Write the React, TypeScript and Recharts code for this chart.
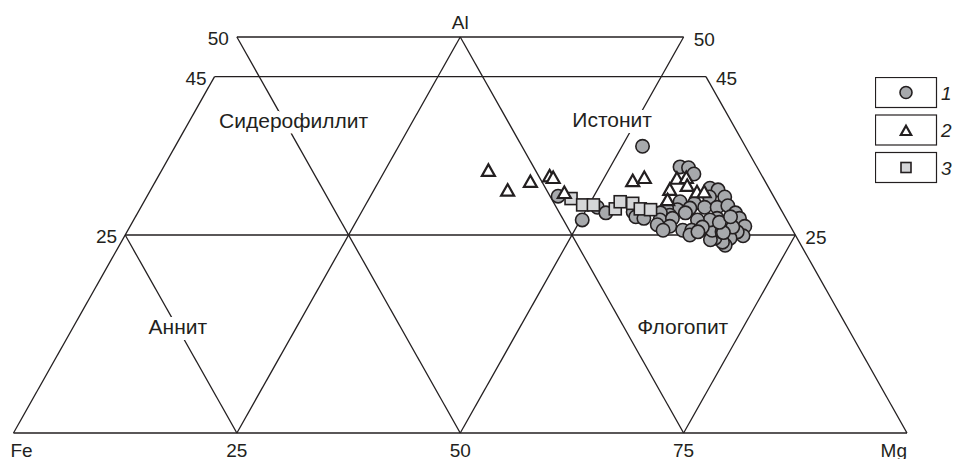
import { Legend, ReferenceDot, ReferenceLine, Scatter, ScatterChart, XAxis, YAxis } from 'recharts';

// ternary compositions, %: Mg and Al (Fe = 100 - Mg - Al)
const group1Mg = [
  52.3, 46.0, 50.2, 51.1, 52.4, 55.4, 56.0, 57.0, 57.8, 58.8, 59.8, 62.5, 63.5, 64.7, 63.0, 60.0,
  61.7, 60.2, 58.9, 61.5, 63.1, 64.5, 65.6, 66.9, 67.7, 68.8, 69.2, 68.3, 67.9, 67.8, 67.3, 66.2,
  65.8, 65.4, 66.6, 67.5, 66.8, 65.2, 64.5, 65.7, 66.6, 63.1, 61.3, 59.7, 58.5, 58.9, 60.2, 58.9,
  60.4, 62.1, 63.1, 64.0, 59.9, 63.2, 64.1, 63.9,
];
const group1Al = [
  36.2, 29.9, 26.9, 28.5, 27.8, 27.9, 27.3, 27.1, 33.6, 33.5, 32.7, 30.9, 30.7, 29.8, 29.8, 29.2,
  29.0, 28.2, 28.4, 28.4, 28.5, 28.5, 28.7, 27.8, 27.1, 26.1, 24.9, 25.4, 24.6, 23.7, 24.1, 24.6,
  24.4, 25.6, 25.4, 26.0, 25.3, 27.1, 26.9, 26.6, 27.3, 26.9, 27.8, 27.5, 27.8, 26.9, 27.1, 26.3,
  26.1, 25.6, 25.6, 25.6, 25.6, 25.0, 26.0, 25.4,
];
const group2Mg = [36.6, 40.0, 42.0, 43.8, 44.3, 46.5, 53.4, 54.5, 58.2, 59.2, 58.1, 59.8, 61.3, 62.1, 58.5];
const group2Al = [33.1, 30.6, 31.7, 32.4, 32.2, 30.3, 31.8, 32.2, 32.1, 32.2, 30.7, 31.2, 30.4, 30.4, 29.4];
const group3Mg = [47.6, 49.3, 50.5, 53.2, 53.3, 54.8, 56.0, 57.2];
const group3Al = [29.6, 28.8, 28.8, 28.3, 29.2, 29.0, 28.3, 28.2];

const seriesNames = ['1', '2', '3'];
const bottomTicks = [25, 50, 75];
const sideTicks = [25, 45, 50];
const fieldNames = ['Сидерофиллит', 'Истонит', 'Аннит', 'Флогопит'];
const fieldMg = [11.6, 47.2, 11.7, 68.2];
const fieldAl = [39.5, 39.6, 13.4, 13.4];

const INK = '#231f20';
const FONT = '"Liberation Sans", Arial, sans-serif';
const FS = 19;

// ternary -> cartesian (x along the Fe–Mg base, y = Al)
const toXY = (mg: number, al: number) => ({ x: mg + al / 2, y: al });
const build = (mg: number[], al: number[]) => mg.map((m, i) => toXY(m, al[i]));

const data1 = build(group1Mg, group1Al);
const data2 = build(group2Mg, group2Al);
const data3 = build(group3Mg, group3Al);

// grid segments as [mg, al] pairs
const segments: [number, number][][] = [
  [[0, 0], [100, 0]],
  [[0, 25], [75, 25]],
  [[0, 45], [55, 45]],
  [[0, 50], [50, 50]],
  [[0, 0], [0, 45]],
  [[100, 0], [55, 45]],
  [[25, 0], [25, 50]],
  [[50, 0], [50, 50]],
  [[75, 0], [75, 25]],
  [[75, 0], [25, 50]],
  [[50, 0], [0, 50]],
  [[25, 0], [0, 25]],
];

const Circle = ({ cx, cy, r = 6.7 }: any) => (
  <circle cx={cx} cy={cy} r={r} fill="#a7a9ac" stroke={INK} strokeWidth={1.6} />
);
const Triangle = ({ cx, cy, s = 1 }: any) => (
  <path
    d={`M${cx},${cy - 6.5 * s} L${cx + 6.5 * s},${cy + 5 * s} L${cx - 6.5 * s},${cy + 5 * s} Z`}
    fill="#fff"
    stroke={INK}
    strokeWidth={2.2}
    strokeLinejoin="miter"
  />
);
const Square = ({ cx, cy, h = 6 }: any) => (
  <rect x={cx - h} y={cy - h} width={h * 2} height={h * 2} fill="#d5d6d8" stroke={INK} strokeWidth={1.6} />
);

const LegendBoxes = () => (
  <svg width={80} height={110} style={{ display: 'block' }}>
    {seriesNames.map((name, i) => (
      <g key={name} transform={`translate(0, ${i * 37.5})`}>
        <rect x={0.5} y={0.5} width={61} height={30} fill="#fff" stroke={INK} strokeWidth={1.2} />
        {i === 0 && <Circle cx={31} cy={15.5} r={6} />}
        {i === 1 && <Triangle cx={31} cy={16.5} s={0.8} />}
        {i === 2 && <Square cx={31} cy={15.5} h={5} />}
        <text x={66} y={16} dominantBaseline="central" fontStyle="italic" fontFamily={FONT} fontSize={FS} fill={INK}>
          {name}
        </text>
      </g>
    ))}
  </svg>
);

const Label = (text: string, mg: number, al: number, dx: number, dy: number, anchor: string, halo = false) => {
  const p = toXY(mg, al);
  return (
    <ReferenceDot
      key={`${text}-${mg}-${al}`}
      x={p.x}
      y={p.y}
      r={0}
      ifOverflow="visible"
      shape={(props: any) => (
        <text
          x={props.cx + dx}
          y={props.cy + dy}
          textAnchor={anchor}
          dominantBaseline="central"
          fontFamily={FONT}
          fontSize={halo ? 21 : FS}
          fill={INK}
          stroke={halo ? '#fff' : 'none'}
          strokeWidth={halo ? 12 : 0}
          paintOrder="stroke"
        >
          {text}
        </text>
      )}
    />
  );
};

export default function App() {
  return (
    <div style={{ position: 'absolute', left: 0, top: 0, background: '#fff' }}>
      <ScatterChart width={954} height={459} margin={{ top: 37, right: 47, bottom: 26, left: 13.5 }}>
        <XAxis type="number" dataKey="x" domain={[0, 100]} hide />
        <YAxis type="number" dataKey="y" domain={[0, 50]} hide />
        {segments.map((s, i) => (
          <ReferenceLine
            key={i}
            segment={[toXY(s[0][0], s[0][1]), toXY(s[1][0], s[1][1])]}
            stroke={INK}
            strokeWidth={1.3}
            ifOverflow="visible"
          />
        ))}
        {fieldNames.map((n, i) => Label(n, fieldMg[i], fieldAl[i], 0, 0, 'middle', true))}
        {sideTicks.map((t) => Label(String(t), 0, t, -8, 1.5, 'end'))}
        {sideTicks.map((t) => Label(String(t), 100 - t, t, 10, 2, 'start'))}
        {bottomTicks.map((t) => Label(String(t), t, 0, 0, 17, 'middle'))}
        {Label('Fe', 0, 0, -3, 17, 'start')}
        {Label('Mg', 100, 0, 0, 17, 'end')}
        {Label('Al', 25, 50, 0, -15, 'middle')}
        <Scatter name={seriesNames[0]} data={data1} shape={<Circle />} isAnimationActive={false} />
        <Scatter name={seriesNames[2]} data={data3} shape={<Square />} isAnimationActive={false} />
        <Scatter name={seriesNames[1]} data={data2} shape={<Triangle />} isAnimationActive={false} />
        <Legend
          layout="vertical"
          align="center"
          verticalAlign="middle"
          content={() => <LegendBoxes />}
          wrapperStyle={{ position: 'absolute', left: 875, top: 77, width: 80, height: 110 }}
        />
      </ScatterChart>
    </div>
  );
}
